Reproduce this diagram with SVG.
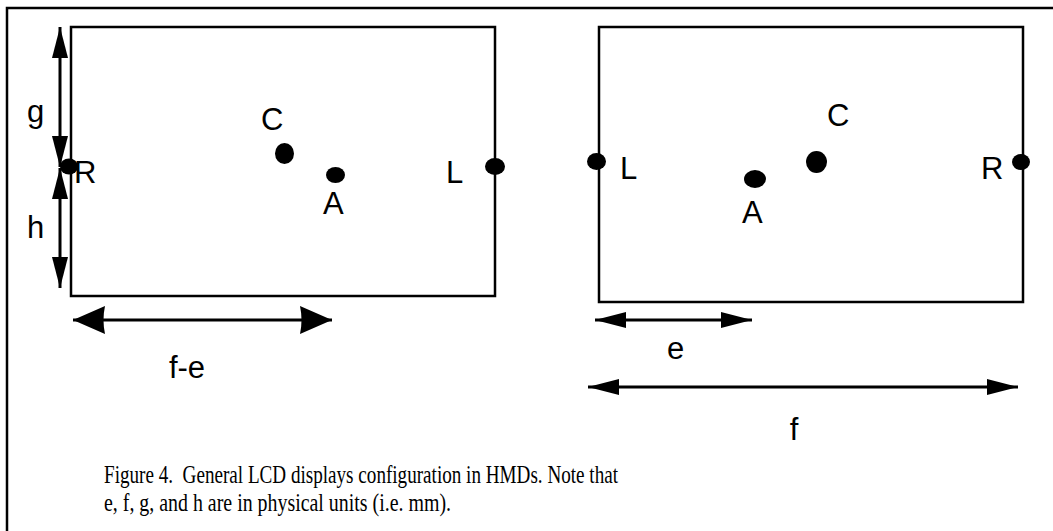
<svg xmlns="http://www.w3.org/2000/svg" width="1053" height="531" viewBox="0 0 1053 531">
<style>
.box{fill:none;stroke:#000;stroke-width:2.5}
.dot{fill:#000}
.lbl{font-family:"Liberation Sans",Arial,sans-serif;font-size:31px;fill:#000}
.dim{stroke:#000;stroke-width:3;fill:none}
.cap{font-family:"Liberation Serif","Times New Roman",serif;font-size:26px;fill:#000}
</style>
<defs>
<marker id="ah" viewBox="0 0 31 16" refX="31" refY="8" markerWidth="31" markerHeight="16" markerUnits="userSpaceOnUse" orient="auto-start-reverse">
<path d="M0,0 L31,8 L0,16 z" fill="#000"/>
</marker>
<marker id="ahBig" viewBox="0 0 32 28" refX="32" refY="14" markerWidth="32" markerHeight="28" markerUnits="userSpaceOnUse" orient="auto-start-reverse">
<path d="M0,0 Q3,14 0,28 L32,14 z" fill="#000"/>
</marker>
</defs>
<rect width="1053" height="531" fill="#fff"/>
<g id="frame">
<path d="M7,531 V8 H1053" fill="none" stroke="#000" stroke-width="2.5"/>
</g>
<g id="left-display">
<rect class="box" x="71" y="27" width="424" height="269"/>
<ellipse class="dot" cx="284.5" cy="153.5" rx="9.5" ry="10.5"/>
<ellipse class="dot" cx="335.5" cy="175" rx="9.5" ry="8"/>
<ellipse class="dot" cx="495" cy="166.5" rx="10" ry="8.5"/>
<ellipse class="dot" cx="69" cy="166.5" rx="9" ry="8"/>
<text class="lbl" x="261" y="130">C</text>
<text class="lbl" x="323" y="214">A</text>
<text class="lbl" x="446" y="183">L</text>
<text class="lbl" x="74" y="183">R</text>
</g>
<g id="right-display">
<rect class="box" x="599" y="27" width="424" height="275"/>
<ellipse class="dot" cx="596.5" cy="161.5" rx="9.5" ry="8.5"/>
<ellipse class="dot" cx="816.5" cy="162" rx="10.5" ry="11"/>
<ellipse class="dot" cx="755" cy="179" rx="11" ry="9"/>
<ellipse class="dot" cx="1021" cy="162" rx="9" ry="8"/>
<text class="lbl" x="620" y="179">L</text>
<text class="lbl" x="827" y="126">C</text>
<text class="lbl" x="742" y="223">A</text>
<text class="lbl" x="981" y="179">R</text>
</g>
<g id="connectors">
<line class="dim" x1="60" y1="27" x2="60" y2="167" marker-start="url(#ah)" marker-end="url(#ah)"/>
<line class="dim" x1="60" y1="168" x2="60" y2="288" marker-start="url(#ah)" marker-end="url(#ah)"/>
<line class="dim" x1="73" y1="320" x2="332" y2="320" marker-start="url(#ahBig)" marker-end="url(#ahBig)"/>
<line class="dim" x1="595" y1="320" x2="752" y2="320" marker-start="url(#ah)" marker-end="url(#ah)"/>
<line class="dim" x1="588" y1="387" x2="1018" y2="387" marker-start="url(#ah)" marker-end="url(#ah)"/>
</g>
<g id="dimension-labels">
<text class="lbl" x="27" y="122">g</text>
<text class="lbl" x="27" y="238">h</text>
<text class="lbl" x="187" y="378" text-anchor="middle">f-e</text>
<text class="lbl" x="667" y="359">e</text>
<text class="lbl" x="794" y="440" text-anchor="middle">f</text>
</g>
<g id="caption">
<text class="cap" x="104" y="483" textLength="514" lengthAdjust="spacingAndGlyphs" xml:space="preserve">Figure 4.  General LCD displays configuration in HMDs. Note that</text>
<text class="cap" x="104" y="511" textLength="347" lengthAdjust="spacingAndGlyphs">e, f, g, and h are in physical units (i.e. mm).</text>
</g>
</svg>
